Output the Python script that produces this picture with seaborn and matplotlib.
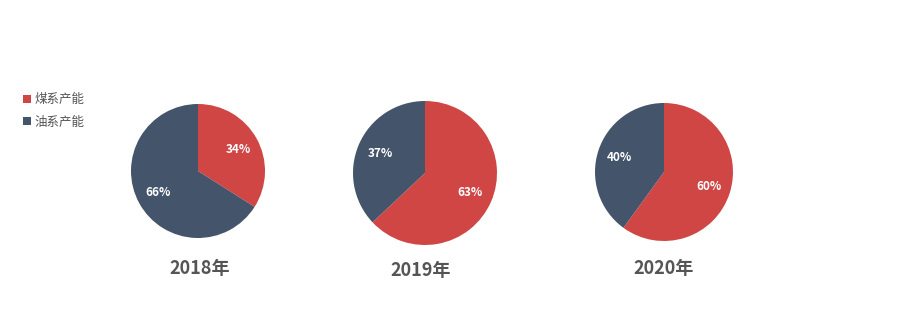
import matplotlib
matplotlib.use("Agg")
import matplotlib.pyplot as plt
import seaborn as sns
from matplotlib.patches import Patch

sns.set_theme(style="white")
plt.rcParams['font.family'] = ['Noto Sans CJK SC', 'DejaVu Sans']

years = ["2018年", "2019年", "2020年"]
categories = ["煤系产能", "油系产能"]
coal = [34, 63, 60]
oil = [66, 37, 40]

colors = ["#D04645", "#44546A"]

W, H = 908, 314
fig = plt.figure(figsize=(W / 100, H / 100), dpi=100)

# pie geometry in pixels: center x, center y, radius
geo = [(198, 171, 67), (425, 173, 72), (664, 172, 69)]
label_x = [200, 421, 664]
label_y = [268, 271, 269]

for i, (cx, cy, r) in enumerate(geo):
    ax = fig.add_axes([(cx - r) / W, (H - cy - r) / H, 2 * r / W, 2 * r / H])
    vals = [coal[i], oil[i]]
    wedges, texts, autotexts = ax.pie(
        vals, colors=colors, startangle=90, counterclock=False,
        autopct=lambda p: f"{p:.0f}%", pctdistance=0.68,
        wedgeprops=dict(linewidth=0),
        textprops=dict(color="white", fontsize=8.5, fontweight="bold"))
    ax.set_xlim(-1, 1)
    ax.set_ylim(-1, 1)
    ax.set_aspect("equal")
    ax.axis("off")
    fig.text(label_x[i] / W, 1 - label_y[i] / H, years[i], ha="center", va="center",
             fontsize=13, fontweight="bold", color="#555555")

handles = [Patch(facecolor=c, edgecolor="none") for c in colors]
fig.legend(handles, categories, loc="upper left", bbox_to_anchor=(12 / W, 1 - 82 / H),
           frameon=False, fontsize=9, handlelength=0.6, handleheight=0.6,
           handletextpad=0.3, labelspacing=0.75, labelcolor="#555555")

fig.savefig("out.png", dpi=100, facecolor="white")
